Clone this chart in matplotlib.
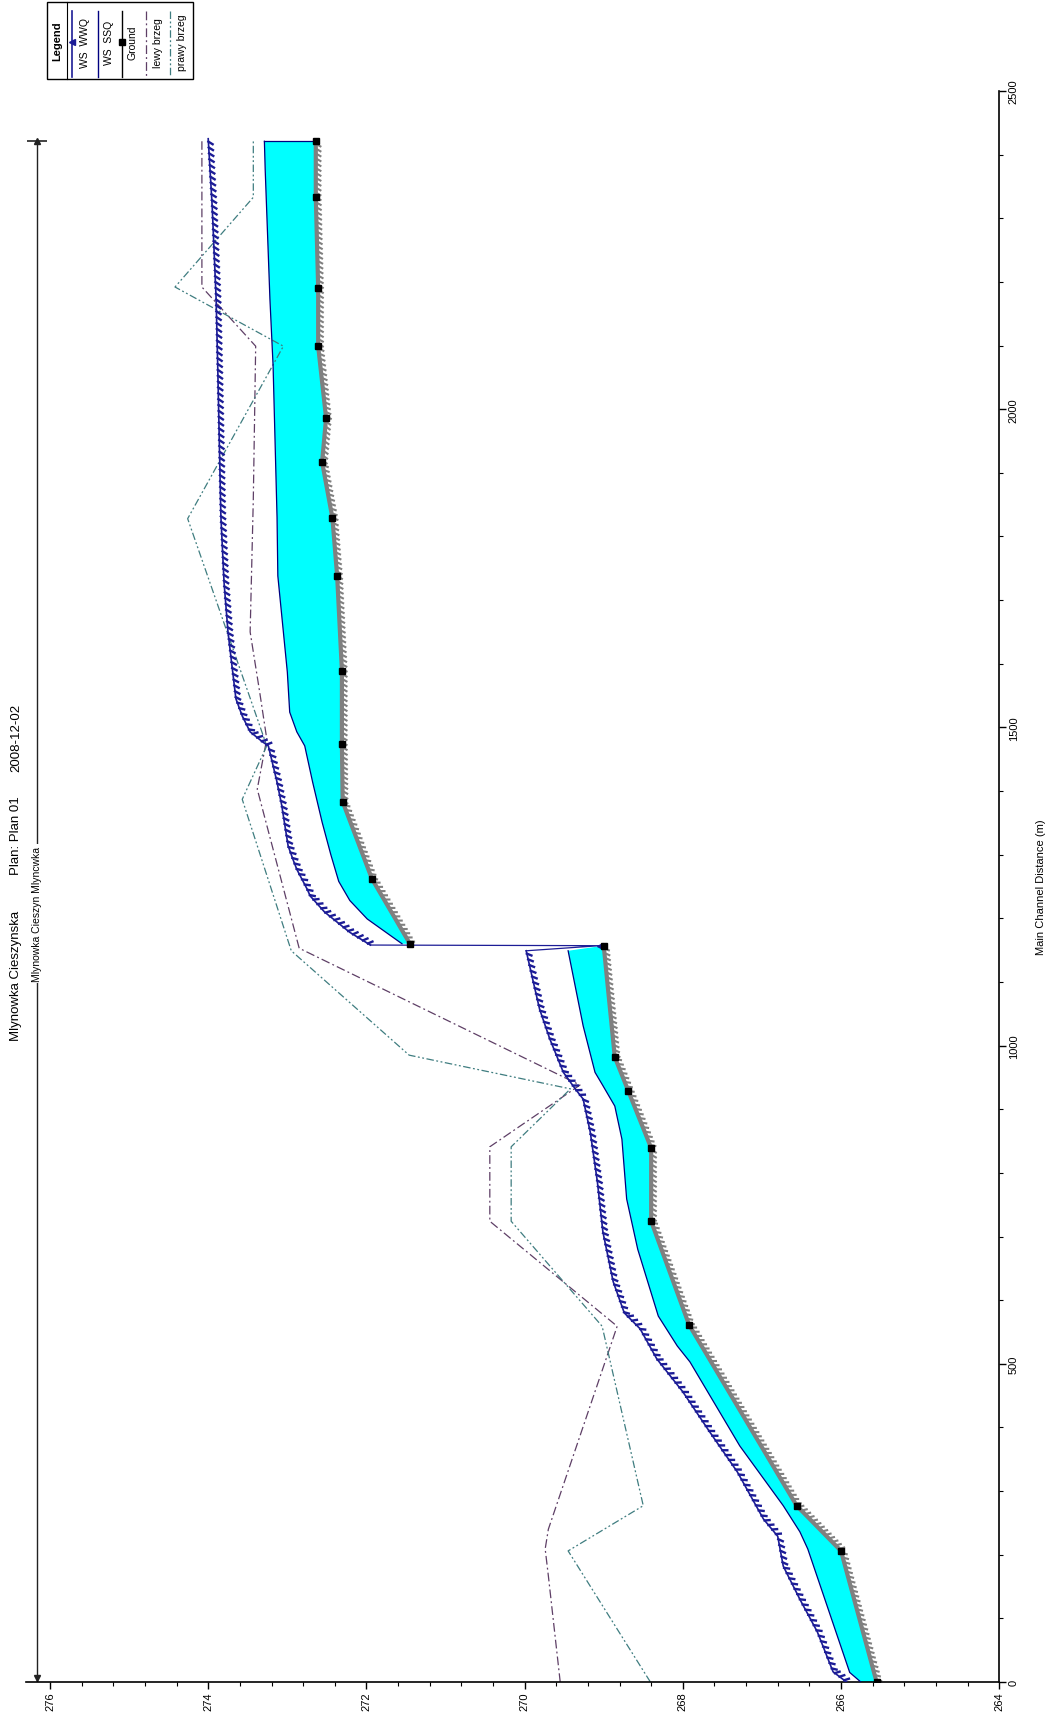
import numpy as np
import matplotlib
matplotlib.use("Agg")
import matplotlib.pyplot as plt
from matplotlib import patheffects
from matplotlib.lines import Line2D
from matplotlib.patches import Rectangle

plt.rcParams['font.family'] = ['Liberation Sans', 'DejaVu Sans']

# Main channel distance (m) and elevation (m)
# ground, downstream of the drop
ground_dn_dist = [0, 206, 277, 561, 724, 839, 929, 982, 1157]
ground_dn_elev = [265.55, 266.00, 266.56, 267.92, 268.40, 268.40, 268.69, 268.86, 269.00]
# ground, upstream of the drop
ground_up_dist = [1160, 1262, 1383, 1474, 1589, 1738, 1829, 1917, 1986, 2099, 2190, 2333, 2421]
ground_up_elev = [271.45, 271.93, 272.30, 272.31, 272.31, 272.37, 272.43, 272.56, 272.51,
                  272.61, 272.61, 272.64, 272.64]

# WS SSQ
ssq_dn_dist = [0, 15, 209, 236, 277, 371, 503, 528, 575, 680, 759, 853, 905, 937, 958, 1031, 1149]
ssq_dn_elev = [265.75, 265.89, 266.42, 266.52, 266.73, 267.28, 267.91, 268.07, 268.31, 268.57,
               268.71, 268.77, 268.86, 269.01, 269.11, 269.26, 269.45]
ssq_up_dist = [1160, 1199, 1228, 1258, 1300, 1351, 1414, 1471, 1493, 1524, 1587, 1650, 1738,
               1830, 2068, 2173, 2377, 2421]
ssq_up_elev = [271.55, 271.99, 272.21, 272.35, 272.45, 272.56, 272.68, 272.78, 272.88, 272.97,
               273.00, 273.05, 273.12, 273.13, 273.18, 273.22, 273.28, 273.29]

# WS WWQ
wwq_dist = [0, 16, 79, 130, 182, 229, 256, 330, 393, 456, 508, 555, 580, 629, 707, 786, 864,
            916, 932, 958, 1010, 1057, 1100, 1149, 1157, 1158, 1178, 1194, 1210, 1235, 1246,
            1277, 1293, 1314, 1361, 1377, 1414, 1471, 1477, 1493, 1518, 1545, 1597, 1650, 1728,
            1832, 2068, 2173, 2319, 2425]
wwq_elev = [265.93, 266.10, 266.30, 266.52, 266.73, 266.80, 266.98, 267.31, 267.66, 268.00,
            268.33, 268.54, 268.74, 268.88, 269.01, 269.08, 269.17, 269.26, 269.36, 269.51,
            269.68, 269.81, 269.89, 269.98, 269.05, 271.95, 272.21, 272.37, 272.53, 272.71,
            272.75, 272.88, 272.93, 272.99, 273.05, 273.07, 273.13, 273.24, 273.31, 273.47,
            273.57, 273.65, 273.70, 273.75, 273.80, 273.84, 273.88, 273.90, 273.95, 274.00]

# bank stations
lewy_dist = [0, 167, 209, 240, 559, 724, 841, 938, 1153, 1403, 1482, 1556, 1650, 1859, 2099,
             2192, 2421]
lewy_elev = [269.55, 269.70, 269.74, 269.70, 268.83, 270.44, 270.44, 269.30, 272.85, 273.38,
             273.26, 273.35, 273.47, 273.43, 273.40, 274.08, 274.08]
prawy_dist = [0, 206, 277, 559, 724, 841, 932, 985, 1149, 1387, 1471, 1828, 2099, 2192, 2333, 2421]
prawy_elev = [268.41, 269.45, 268.50, 269.02, 270.17, 270.17, 269.42, 271.46, 272.95, 273.57,
              273.26, 274.26, 273.05, 274.42, 273.43, 273.43]

elev_ticks = [264, 266, 268, 270, 272, 274, 276]
dist_ticks = [0, 500, 1000, 1500, 2000, 2500]

W, H = 1050, 1715
fig = plt.figure(figsize=(W / 100, H / 100), dpi=100)
# plot is turned on its side: elevation runs right-to-left, distance bottom-to-top
ax = fig.add_axes([26.3 / W, 32 / H, 972.9 / W, 1591 / H])
ax.set_xlim(276.3, 264)
ax.set_ylim(0, 2500)

cyan = '#00ffff'
navy = '#000080'
wwq_col = '#1c1c96'

# water between SSQ surface and ground
ax.fill(np.r_[ssq_dn_elev, ground_dn_elev[::-1]], np.r_[ssq_dn_dist, ground_dn_dist[::-1]],
        color=cyan, lw=0, zorder=1)
ax.fill(np.r_[ssq_up_elev, ground_up_elev[::-1]], np.r_[ssq_up_dist, ground_up_dist[::-1]],
        color=cyan, lw=0, zorder=1)
ax.plot([ssq_up_elev[-1], ground_up_elev[-1]], [ssq_up_dist[-1], ground_up_dist[-1]],
        color=navy, lw=0.9, zorder=3)
ax.plot(ssq_dn_elev, ssq_dn_dist, color=navy, lw=0.9, zorder=3)
ax.plot(ssq_up_elev, ssq_up_dist, color=navy, lw=0.9, zorder=3)

# ground
hatch = [patheffects.TickedStroke(spacing=3.5, angle=-120, length=1.1, linewidth=1.5,
                                  foreground='#808080'), patheffects.Normal()]
for d, e in [(ground_dn_dist, ground_dn_elev), (ground_up_dist, ground_up_elev)]:
    ax.plot(e, d, color='#808080', lw=3, zorder=2, path_effects=hatch)
    ax.plot(e, d, ls='none', marker='s', ms=4.5, color='black', zorder=5)

# bank stations
ax.plot(lewy_elev, lewy_dist, color='#5e3f66', lw=0.9, ls=(0, (7, 2.5, 1.5, 2.5)), zorder=2)
ax.plot(prawy_elev, prawy_dist, color='#3f7d80', lw=0.9, ls=(0, (6, 2, 1.5, 2, 1.5, 2)), zorder=2)

# WS WWQ with its small triangle teeth; the jump over the drop is a plain line
teeth = [patheffects.TickedStroke(spacing=4.2, angle=-125, length=0.85, linewidth=1.7,
                                  foreground=wwq_col), patheffects.Normal()]
i_dn = wwq_dist.index(1149)
i_up = wwq_dist.index(1158)
ax.plot(wwq_elev[:i_dn + 1], wwq_dist[:i_dn + 1], color=wwq_col, lw=1.2, zorder=4,
        path_effects=teeth)
ax.plot(wwq_elev[i_up:], wwq_dist[i_up:], color=wwq_col, lw=1.2, zorder=4, path_effects=teeth)
ax.plot(wwq_elev[i_dn:i_up + 1], wwq_dist[i_dn:i_up + 1], color=wwq_col, lw=0.9, zorder=4)
ax.plot([wwq_elev[i_up - 1]], [wwq_dist[i_up - 1]], marker='<', ms=4, color=wwq_col, zorder=4)

# reach line with the river / reach name
reach_x = 276.164
ax.plot([reach_x, reach_x], [0, 2421], color='#222222', lw=1.0, zorder=2)
ax.plot([reach_x], [2421], marker='^', ms=4, color='#222222')
ax.plot([reach_x], [2421], marker='_', ms=14, mew=1.2, color='#222222')
ax.plot([reach_x], [6], marker='v', ms=4, color='#222222')
ax.text(reach_x, 1208, 'Mlynowka Cieszyn Mlyncwka', rotation=90, ha='center', va='center',
        fontsize=7.5, bbox=dict(facecolor='white', edgecolor='none', pad=1.5), zorder=6)

# axes styling
for s in ['top', 'left']:
    ax.spines[s].set_visible(False)
ax.spines['bottom'].set_linewidth(1.2)
ax.spines['right'].set_linewidth(1.2)
ax.yaxis.tick_right()
ax.yaxis.set_label_position('right')
ax.set_xticks(elev_ticks)
ax.set_xticks(np.arange(264, 276.01, 0.4), minor=True)
ax.set_yticks(dist_ticks)
ax.set_yticks(np.arange(0, 2501, 100), minor=True)
ax.set_xticklabels([str(t) for t in elev_ticks], rotation=90, fontsize=8)
ax.set_yticklabels([str(t) for t in dist_ticks], rotation=90, va='center', fontsize=8,
                   family=['Liberation Sans Narrow', 'Liberation Sans'])
ax.tick_params(which='major', length=5, width=1, pad=2)
ax.tick_params(which='minor', length=3, width=0.8)
ax.set_ylabel('Main Channel Distance (m)', rotation=90, fontsize=8, labelpad=12,
              family=['Liberation Sans Narrow', 'Liberation Sans'])


def fx(x):
    return x / W


def fy(y):
    return 1 - y / H


# title
fig.text(fx(16), fy(1041), 'Mlynowka Cieszynska', rotation=90, ha='center', va='bottom',
         fontsize=9.5)
fig.text(fx(16), fy(875), 'Plan: Plan 01', rotation=90, ha='center', va='bottom', fontsize=9.5)
fig.text(fx(16), fy(772), '2008-12-02', rotation=90, ha='center', va='bottom', fontsize=9.5)

# legend, drawn by hand since it is rotated too
fig.patches.append(Rectangle((fx(47), fy(80)), fx(146), 77 / H, transform=fig.transFigure,
                             facecolor='white', edgecolor='black', lw=1))
fig.lines.append(Line2D([fx(67), fx(67)], [fy(3), fy(80)], transform=fig.transFigure,
                        color='black', lw=0.8))
fig.text(fx(57), fy(41), 'Legend', rotation=90, ha='center', va='center', fontsize=8,
         fontweight='bold')
leg_items = [('WS  WWQ', dict(color=wwq_col, lw=1.2, marker='<', ms=4)),
             ('WS  SSQ', dict(color=navy, lw=1)),
             ('Ground', dict(color='black', lw=1, marker='s', ms=4)),
             ('lewy brzeg', dict(color='#5e3f66', lw=0.9, ls=(0, (7, 2.5, 1.5, 2.5)))),
             ('prawy brzeg', dict(color='#3f7d80', lw=0.9, ls=(0, (6, 2, 1.5, 2, 1.5, 2))))]
line_x = [72, 98, 122, 146, 170]
text_x = [85, 109, 133, 158, 182]
for (lab, kw), lx, tx in zip(leg_items, line_x, text_x):
    fig.lines.append(Line2D([fx(lx), fx(lx)], [fy(12), fy(78)], transform=fig.transFigure,
                            markevery=[], **kw))
    if 'marker' in kw:
        fig.lines.append(Line2D([fx(lx)], [fy(43)], transform=fig.transFigure, ls='none',
                                marker=kw['marker'], ms=kw['ms'], color=kw['color']))
    fig.text(fx(tx), fy(43), lab, rotation=90, ha='center', va='center', fontsize=7.5)

fig.savefig('out.png', dpi=100)
